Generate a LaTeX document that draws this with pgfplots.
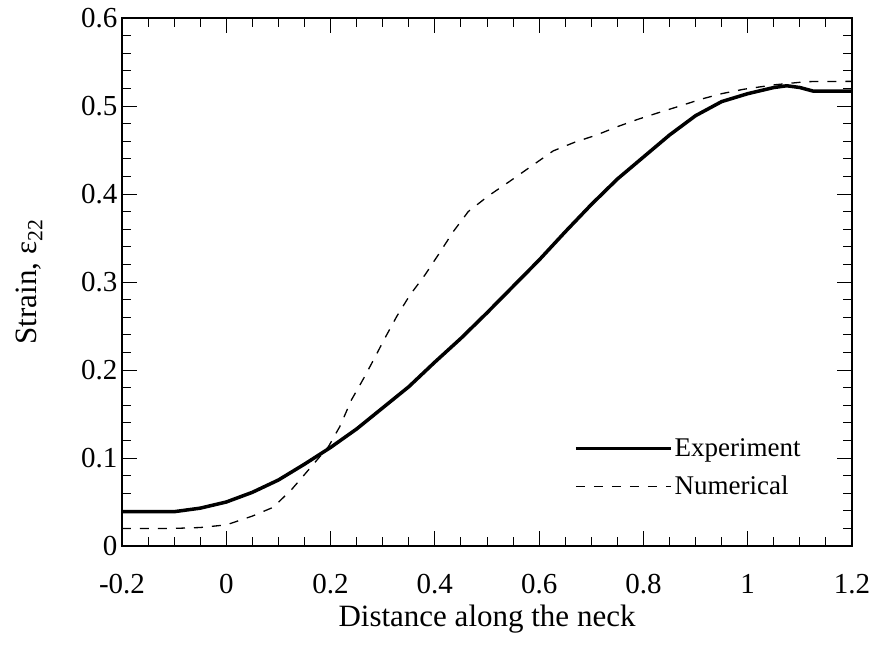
\documentclass[border=0pt]{standalone}
\usepackage{pgfplots}
\pgfplotsset{compat=1.18}
\usepackage{fontspec}
\setmainfont{Liberation Serif}
\newcommand{\tlf}{\fontsize{29}{29}\selectfont}
\begin{document}
\begin{tikzpicture}
\path[use as bounding box] (-122pt,-100pt) rectangle (748pt,546pt);
\begin{axis}[
  scale only axis,
  width=730pt, height=528pt,
  xmin=-0.2, xmax=1.2, ymin=0, ymax=0.6,
  xtick={-0.2,0,0.2,0.4,0.6,0.8,1,1.2},
  ytick={0,0.1,0.2,0.3,0.4,0.5,0.6},
  xticklabels={{\tlf -0.2},{\tlf 0},{\tlf 0.2},{\tlf 0.4},{\tlf 0.6},{\tlf 0.8},{\tlf 1},{\tlf 1.2}},
  yticklabels={{\tlf 0},{\tlf 0.1},{\tlf 0.2},{\tlf 0.3},{\tlf 0.4},{\tlf 0.5},{\tlf 0.6}},
  minor x tick num=3, minor y tick num=4,
  tick align=inside,
  xtick pos=both, ytick pos=both,
  major tick length=15pt, minor tick length=9pt,
  every tick/.style={black, line width=1pt},
  axis line style={line width=1.3pt},
  xticklabel style={yshift=-25pt},
  yticklabel style={xshift=-1pt},
  xlabel={Distance along the neck},
  ylabel={Strain, ε\textsubscript{22}},
  label style={font=\fontsize{31}{31}\selectfont},
  xlabel style={yshift=-4pt},
  ylabel style={yshift=32pt},
  legend style={at={(0.615,0.086)}, anchor=south west, draw=none, fill=none,
    font=\fontsize{27}{27}\selectfont, row sep=14pt},
  legend cell align=left,
  legend image code/.code={\draw[#1] (0pt,0pt) -- (95pt,0pt);},
]
\addplot[black, line width=3.5pt, line join=round] coordinates {
(-0.2,0.039) (-0.15,0.039) (-0.1,0.039) (-0.05,0.043) (0,0.050) (0.05,0.061)
(0.1,0.075) (0.15,0.093) (0.2,0.112) (0.25,0.133) (0.3,0.157) (0.35,0.181)
(0.4,0.209) (0.45,0.236) (0.5,0.265) (0.55,0.295) (0.6,0.325) (0.65,0.357)
(0.7,0.388) (0.75,0.417) (0.8,0.442) (0.85,0.467) (0.9,0.489) (0.95,0.505)
(1.0,0.514) (1.05,0.521) (1.075,0.523) (1.1,0.521) (1.125,0.517) (1.2,0.517)
};
\addlegendentry{Experiment}
\addplot[black, line width=1.3pt, dash pattern=on 9pt off 9pt] coordinates {
(-0.2,0.020) (-0.1,0.020) (-0.05,0.021) (0,0.024) (0.05,0.034) (0.09,0.044)
(0.125,0.064) (0.157,0.086) (0.196,0.113) (0.218,0.136) (0.24,0.166)
(0.263,0.19) (0.282,0.211) (0.304,0.236) (0.327,0.261) (0.352,0.285)
(0.381,0.308) (0.41,0.334) (0.435,0.357) (0.464,0.380) (0.503,0.398)
(0.545,0.415) (0.586,0.432) (0.627,0.449) (0.669,0.459) (0.71,0.467)
(0.75,0.4765) (0.79,0.485) (0.832,0.493) (0.87,0.5) (0.912,0.508)
(0.95,0.514) (0.992,0.519) (1.05,0.524) (1.113,0.5277) (1.2,0.528)
};
\addlegendentry{Numerical}
\end{axis}
\end{tikzpicture}
\end{document}
